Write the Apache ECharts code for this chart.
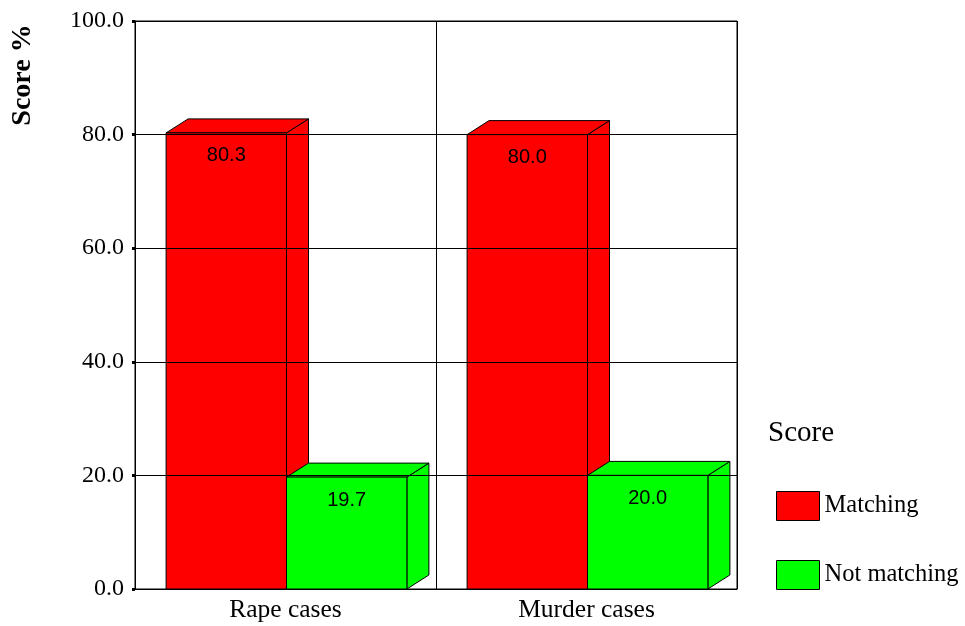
<!DOCTYPE html>
<html>
<head>
<meta charset="utf-8">
<script src="https://cdn.jsdelivr.net/npm/echarts@6/dist/echarts.min.js"></script>
<style>
  html, body { margin: 0; padding: 0; background: #fff; }
  #chart { width: 965px; height: 626px; }
</style>
</head>
<body>
<div id="chart"></div>
<script>
const categories = ['Rape cases', 'Murder cases'];
const matching = [80.3, 80.0];
const notMatching = [19.7, 20.0];
const seriesNames = ['Matching', 'Not matching'];
const seriesColors = ['#ff0000', '#00ff00'];

const DX = 22;   // depth offset to the right
const DY = 14;   // depth offset upwards
const serif = '"Liberation Serif", "Times New Roman", serif';

// draws a box-shaped bar: front face, top face and right side
function makeRender(slot, color) {
    return function (params, api) {
        const idx = api.value(0);
        const val = api.value(1);
        const base = api.coord([idx, 0]);
        const top = api.coord([idx, val]);
        const bandW = api.size([1, 0])[0];
        const barW = bandW * 0.4;
        const cx = base[0] + 1;
        const x0 = slot === 0 ? cx - barW : cx;
        const x1 = x0 + barW;
        const y0 = base[1];
        const y1 = top[1];
        const stroke = { fill: color, stroke: '#000', lineWidth: 1 };
        return {
            type: 'group',
            children: [
                {
                    type: 'polygon',
                    shape: { points: [[x1, y1], [x1 + DX, y1 - DY], [x1 + DX, y0 - DY], [x1, y0]] },
                    style: stroke
                },
                {
                    type: 'polygon',
                    shape: { points: [[x0, y1], [x0 + DX, y1 - DY], [x1 + DX, y1 - DY], [x1, y1]] },
                    style: stroke
                },
                {
                    type: 'rect',
                    shape: { x: x0, y: y1, width: barW, height: y0 - y1 },
                    style: stroke
                },
                {
                    type: 'text',
                    x: (x0 + x1) / 2,
                    y: y1 + 23,
                    style: {
                        text: val.toFixed(1),
                        fill: '#000',
                        font: '20px "Liberation Sans", Arial, sans-serif',
                        align: 'center',
                        verticalAlign: 'middle'
                    }
                }
            ]
        };
    };
}

const chart = echarts.init(document.getElementById('chart'));
const option = {
    animation: false,
    grid: {
        left: 135, right: 228, top: 21, bottom: 37,
        show: true, borderColor: '#000', borderWidth: 1
    },
    title: {
        text: 'Score',
        left: 763, top: 414,
        textStyle: { fontFamily: serif, fontSize: 29, fontWeight: 'normal', color: '#000' }
    },
    legend: {
        orient: 'vertical',
        left: 771, top: 486,
        itemWidth: 43, itemHeight: 29, itemGap: 39,
        icon: 'rect',
        data: seriesNames,
        itemStyle: { borderColor: '#000', borderWidth: 1 },
        textStyle: { fontFamily: serif, fontSize: 24.5, color: '#000' }
    },
    graphic: [{
        type: 'text',
        x: 23, y: 75,
        rotation: Math.PI / 2,
        style: {
            text: 'Score %',
            fill: '#000',
            font: 'bold 28px ' + serif,
            align: 'center',
            verticalAlign: 'middle'
        }
    }],
    xAxis: {
        type: 'category',
        data: categories,
        axisLine: { lineStyle: { color: '#000', width: 1 } },
        axisTick: { alignWithLabel: true, length: 3, lineStyle: { color: '#000', width: 3 } },
        axisLabel: { color: '#000', fontFamily: serif, fontSize: 25.5, margin: 8 },
        splitLine: { show: true, lineStyle: { color: '#000', width: 1 } }
    },
    yAxis: {
        type: 'value',
        min: 0, max: 100, interval: 20,
        z: 10,
        axisLine: { show: true, lineStyle: { color: '#000', width: 1 } },
        axisTick: { show: true, length: 3, lineStyle: { color: '#000', width: 3 } },
        axisLabel: {
            color: '#000', fontFamily: serif, fontSize: 24, margin: 11,
            formatter: v => v.toFixed(1)
        },
        splitLine: { show: true, lineStyle: { color: '#000', width: 1 } }
    },
    series: [
        {
            name: seriesNames[0],
            type: 'custom',
            itemStyle: { color: seriesColors[0], borderColor: '#000' },
            renderItem: makeRender(0, seriesColors[0]),
            data: matching.map((v, i) => [i, v])
        },
        {
            name: seriesNames[1],
            type: 'custom',
            itemStyle: { color: seriesColors[1], borderColor: '#000' },
            renderItem: makeRender(1, seriesColors[1]),
            data: notMatching.map((v, i) => [i, v])
        }
    ]
};
chart.setOption(option);
</script>
</body>
</html>
